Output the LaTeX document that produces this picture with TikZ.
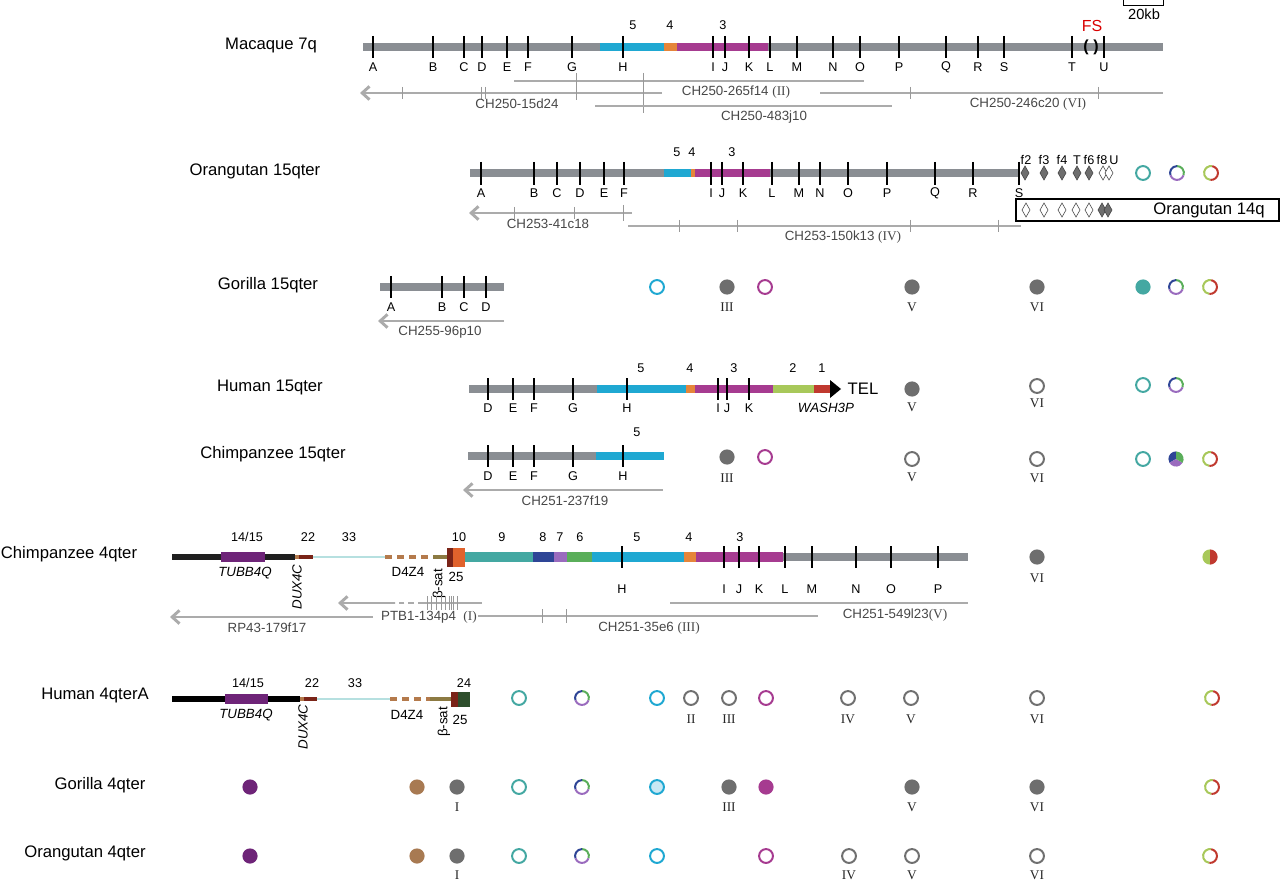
\documentclass[tikz,border=0pt]{standalone}
\usepackage{fontspec}
\setmainfont{Liberation Sans}
\newfontfamily\serif{Liberation Serif}
\usetikzlibrary{arrows.meta}
\definecolor{bargray}{HTML}{8A8E93}
\definecolor{clonegray}{HTML}{ABABAB}
\definecolor{cyanF}{HTML}{1FA8D2}
\definecolor{orangeF}{HTML}{E5853A}
\definecolor{magF}{HTML}{A63B90}
\definecolor{ygF}{HTML}{A8C85A}
\definecolor{redF}{HTML}{C0392F}
\definecolor{tealF}{HTML}{44A8A2}
\definecolor{blueF}{HTML}{2E4596}
\definecolor{lavF}{HTML}{9A6BBE}
\definecolor{greenF}{HTML}{5AAE5A}
\definecolor{orangeT}{HTML}{E0622C}
\definecolor{purpF}{HTML}{6E2478}
\definecolor{tanF}{HTML}{B47A4C}
\definecolor{lcyan}{HTML}{B6E0E0}
\definecolor{oliveF}{HTML}{8C7A42}
\definecolor{dkred}{HTML}{7A2418}
\definecolor{dkgreen}{HTML}{2E4E2C}
\definecolor{circgray}{HTML}{6E6E6E}
\definecolor{ringgray}{HTML}{707070}
\definecolor{brownC}{HTML}{A87A52}
\definecolor{lcfill}{HTML}{C8E8F4}
\newcommand\myring[3]{\draw[line width=1.5pt,#3] (#1,#2) circle[radius=5.2pt];}
\newcommand\mydot[3]{\fill[#3] (#1,#2) circle[radius=5.7pt];}
\newcommand\myarc[5]{\draw[line width=1.5pt,#5] ([shift={(#3:5.2pt)}]#1,#2) arc[start angle=#3,end angle=#4,radius=5.2pt];}
\newcommand\mybgp[2]{\myarc{#1}{#2}{-20}{90}{greenF}\myarc{#1}{#2}{90}{200}{blueF}\myarc{#1}{#2}{200}{340}{lavF}}
\newcommand\myygr[2]{\myarc{#1}{#2}{80}{265}{ygF}\myarc{#1}{#2}{265}{440}{redF}}
\newcommand\mywedge[5]{\fill[#5] (#1,#2) -- ([shift={(#3:5.7pt)}]#1,#2) arc[start angle=#3,end angle=#4,radius=5.7pt] -- cycle;}
\newcommand\mydia[3]{\filldraw[fill=#3,draw=black!75,line width=0.4pt] (#1-4,#2) -- (#1,#2-7) -- (#1+4,#2) -- (#1,#2+7) -- cycle;}
\begin{document}
\begin{tikzpicture}[x=0.75pt,y=-0.75pt,
 bar/.style={line width=6pt,bargray},
 tk/.style={line width=1.3pt,black},
 lab/.style={font=\fontsize{9.5}{11}\selectfont,inner sep=0pt},
 cl/.style={line width=2.2pt,clonegray},
 clarrow/.style={cl,-{Straight Barb[length=5.5pt,width=10pt]}},
 cltick/.style={line width=0.4pt,black!40},
 cltxt/.style={font=\fontsize{10}{12}\selectfont,text=black!72,inner sep=0pt},
 sp/.style={font=\fontsize{12.5}{15}\selectfont,inner sep=0pt},
 rom/.style={font=\serif\fontsize{10}{12}\selectfont,inner sep=0pt,text=black!85},
 itl/.style={font=\itshape\fontsize{10}{12}\selectfont,inner sep=0pt},
 mid/.style={font=\fontsize{10}{12}\selectfont,inner sep=0pt}]
\useasboundingbox (0,0) rectangle (1280,880);
% ---------------- Macaque 7q ----------------
\node[sp] (spMac) at (271,46) {Macaque 7q};
\draw[bar] (363,47) -- (1163,47);
\draw[line width=6pt,cyanF] (600,47) -- (664,47);
\draw[line width=6pt,orangeF] (664,47) -- (677,47);
\draw[line width=6pt,magF] (677,47) -- (768,47);
\foreach \x/\l in {373/A,433/B,464/C,482/D,507/E,528/F,572/G,623/H,713/I,725/J,749/K,770/L,797/M,833/N,860/O,899/P,946/Q,978/R,1004/S,1072/T,1104/U}
 {\draw[tk] (\x,36) -- (\x,58); \node[lab] (mac\l) at (\x,67) {\l};}
\node[lab] (macn5) at (633,25) {5};
\node[lab] (macn4) at (670,25) {4};
\node[lab] (macn3) at (723,25) {3};
\node[font=\fontsize{12}{14}\selectfont,text=red!85!black,inner sep=0pt] (fs) at (1092,26) {FS};
\node[font=\bfseries\fontsize{12}{14}\selectfont,inner sep=0pt] (fsp) at (1091,47) {(\kern3.5pt)};
\draw[line width=0.6pt] (1123,0) -- (1123,5) -- (1163,5) -- (1163,0);
\node[font=\fontsize{11}{13}\selectfont,inner sep=0pt] (kb) at (1144,14) {20kb};
\draw[cl] (514,81) -- (864,81);
\node[cltxt] (c265) at (736,92) {CH250-265f14 \serif(II)};
\draw[clarrow] (662,93) -- (360,93);
\foreach \x in {402,481,485} {\draw[cltick] (\x,87) -- (\x,99);}
\draw[cltick] (576,73) -- (576,100);
\draw[cltick] (643,73) -- (643,113);
\node[cltxt] (c15d) at (517,104) {CH250-15d24};
\draw[cl] (595,106) -- (892,106);
\node[cltxt] (c483) at (764,117) {CH250-483j10};
\draw[cl] (820,93) -- (1163,93);
\foreach \x in {910,1098} {\draw[cltick] (\x,87) -- (\x,99);}
\node[cltxt] (c246) at (1028,104) {CH250-246c20 \serif(VI)};
% ---------------- Orangutan 15qter ----------------
\node[sp] (spO15) at (255,171) {Orangutan 15qter};
\draw[bar] (470,173) -- (1019,173);
\draw[line width=6pt,cyanF] (664,173) -- (691,173);
\draw[line width=6pt,orangeF] (691,173) -- (695,173);
\draw[line width=6pt,magF] (695,173) -- (770,173);
\foreach \x/\l in {481/A,534/B,557/C,580/D,604/E,624/F,711/I,722/J,743/K,772/L,799/M,820/N,848/O,887/P,935/Q,973/R,1019/S}
 {\draw[tk] (\x,162) -- (\x,185); \node[lab] (o15\l) at (\x,193) {\l};}
\node[lab] (o15n5) at (677,152) {5};
\node[lab] (o15n4) at (692,152) {4};
\node[lab] (o15n3) at (732,152) {3};
\foreach \x in {1025,1044,1062,1077,1089} {\mydia{\x}{173}{circgray}}
\foreach \x in {1103,1109} {\mydia{\x}{173}{white}}
\foreach \x/\l/\n in {1026/f2/a,1044/f3/b,1062/f4/c,1077/T/d,1089/f6/e,1102/f8/f,1114/U/g}
 {\node[lab] (df\n) at (\x,160) {\l};}
\draw[line width=1pt] (1016,199) rectangle (1279,221);
\foreach \x in {1026,1044,1062,1076,1089} {\mydia{\x}{210}{white}}
\foreach \x in {1102,1108} {\mydia{\x}{210}{circgray}}
\node[sp] (o14) at (1209,210) {Orangutan 14q};
\myring{1143}{173}{tealF}
\mybgp{1177}{173}
\myygr{1211}{173}
\draw[clarrow] (632,213) -- (469,213);
\foreach \x in {514,574} {\draw[cltick] (\x,207) -- (\x,219);}
\draw[cltick] (623,205) -- (623,221);
\node[cltxt] (c41) at (548,224) {CH253-41c18};
\draw[cl] (628,226) -- (1021,226);
\foreach \x in {679,737,910,998} {\draw[cltick] (\x,220) -- (\x,232);}
\node[cltxt] (c150) at (843,237) {CH253-150k13 \serif(IV)};
% ---------------- Gorilla 15qter ----------------
\node[sp] (spG15) at (268,285) {Gorilla 15qter};
\draw[bar] (380,287) -- (504,287);
\foreach \x/\l in {391/A,442/B,464/C,486/D}
 {\draw[tk] (\x,276) -- (\x,298); \node[lab] (g15\l) at (\x,307) {\l};}
\draw[clarrow] (504,321) -- (378,321);
\node[cltxt] (c96) at (440,332) {CH255-96p10};
\myring{657}{287}{cyanF}
\mydot{727}{287}{circgray} \node[rom] (g15III) at (727,307) {III};
\myring{765}{287}{magF}
\mydot{912}{287}{circgray} \node[rom] (g15V) at (912,307) {V};
\mydot{1037}{287}{circgray} \node[rom] (g15VI) at (1037,307) {VI};
\mydot{1143}{287}{tealF}
\mybgp{1176}{287}
\myygr{1210}{287}
% ---------------- Human 15qter ----------------
\node[sp] (spH15) at (270,387) {Human 15qter};
\draw[bar] (469,389) -- (597,389);
\draw[line width=6pt,cyanF] (597,389) -- (686,389);
\draw[line width=6pt,orangeF] (686,389) -- (695,389);
\draw[line width=6pt,magF] (695,389) -- (773,389);
\draw[line width=6pt,ygF] (773,389) -- (814,389);
\draw[line width=6pt,redF] (814,389) -- (830,389);
\fill[black] (830,380) -- (841,389) -- (830,398) -- cycle;
\foreach \x/\l in {488/D,513/E,534/F,573/G,627/H,718/I,727/J,749/K}
 {\draw[tk] (\x,378) -- (\x,400); \node[lab] (h15\l) at (\x,408) {\l};}
\foreach \x/\l in {641/5,690/4,734/3,793/2,822/1} {\node[lab] (h15n\l) at (\x,368) {\l};}
\node[sp] (tel) at (863,389) {TEL};
\node[itl] (wash) at (826,408) {WASH3P};
\mydot{912}{389}{circgray} \node[rom] (h15V) at (912,407) {V};
\myring{1037}{386}{ringgray} \node[rom] (h15VI) at (1037,403) {VI};
\myring{1143}{385}{tealF}
\mybgp{1176}{385}
% ---------------- Chimpanzee 15qter ----------------
\node[sp] (spC15) at (273,454) {Chimpanzee 15qter};
\draw[bar] (468,456) -- (596,456);
\draw[line width=6pt,cyanF] (596,456) -- (664,456);
\foreach \x/\l in {488/D,513/E,534/F,573/G,623/H}
 {\draw[tk] (\x,445) -- (\x,467); \node[lab] (c15\l) at (\x,476) {\l};}
\node[lab] (c15n5) at (637,432) {5};
\draw[clarrow] (663,490) -- (463,490);
\node[cltxt] (c237) at (565,501) {CH251-237f19};
\mydot{727}{457}{circgray} \node[rom] (c15III) at (727,478) {III};
\myring{765}{457}{magF}
\myring{912}{459}{ringgray} \node[rom] (c15V) at (912,477) {V};
\myring{1037}{459}{ringgray} \node[rom] (c15VI) at (1037,478) {VI};
\myring{1143}{459}{tealF}
\mywedge{1176}{459}{90}{210}{blueF}
\mywedge{1176}{459}{210}{330}{lavF}
\mywedge{1176}{459}{-30}{90}{greenF}
\myygr{1210}{459}
% ---------------- Chimpanzee 4qter ----------------
\node[sp] (spC4) at (69,554) {Chimpanzee 4qter};
\draw[line width=5.2pt,black!88] (172,557) -- (295,557);
\draw[line width=7.5pt,purpF] (221,557) -- (265,557);
\draw[line width=3pt,tanF] (295,557) -- (299,557);
\draw[line width=3pt,dkred] (299,557) -- (313,557);
\draw[line width=2.2pt,lcyan] (313,557) -- (385,557);
\draw[line width=3pt,tanF,dash pattern=on 5pt off 4pt] (385,557) -- (433,557);
\draw[line width=3pt,oliveF] (433,557) -- (447,557);
\fill[dkred] (447,548) rectangle (453,567);
\fill[orangeT] (453,548) rectangle (465,567);
\draw[line width=6.8pt,tealF] (465,557) -- (533,557);
\draw[line width=6.8pt,blueF] (533,557) -- (554,557);
\draw[line width=6.8pt,lavF] (554,557) -- (567,557);
\draw[line width=6.8pt,greenF] (567,557) -- (592,557);
\draw[line width=6.8pt,cyanF] (592,557) -- (684,557);
\draw[line width=6.8pt,orangeF] (684,557) -- (696,557);
\draw[line width=6.8pt,magF] (696,557) -- (783,557);
\draw[bar] (783,557) -- (968,557);
\foreach \x/\l in {622/H,724/I,739/J,759/K,785/L,812/M,856/N,891/O,938/P}
 {\draw[tk] (\x,546) -- (\x,568); \node[lab] (c4\l) at (\x,589) {\l};}
\foreach \x/\l/\n in {247/14\slash15/a,308/22/b,349/33/c,459/10/d,502/9/e,543/8/f,560/7/g,580/6/h,637/5/i,689/4/j,740/3/k}
 {\node[lab] (c4n\n) at (\x,537) {\l};}
\node[itl] (c4tubb) at (245,573) {TUBB4Q};
\node[itl,rotate=90] (c4dux) at (297,587) {DUX4C};
\node[mid] (c4d4z4) at (408,572) {D4Z4};
\node[mid,rotate=90] (c4bsat) at (439,584) {β-sat};
\node[mid] (c4n25) at (456,577) {25};
\draw[cl] (482,603) -- (423,603);
\draw[cl,dash pattern=on 4pt off 3pt] (423,603) -- (395,603);
\draw[clarrow] (395,603) -- (338,603);
\foreach \x in {427,431,436,441,445,449,451,453,457} {\draw[cltick] (\x,596) -- (\x,610);}
\node[cltxt] (cptb) at (429,617) {PTB1-134p4 \ \serif(I)};
\draw[clarrow] (373,617) -- (170,617);
\node[cltxt] (crp) at (267,628) {RP43-179f17};
\draw[cl] (478,616) -- (818,616);
\foreach \x in {542,566} {\draw[cltick] (\x,609) -- (\x,623);}
\node[cltxt] (c35) at (649,628) {CH251-35e6 \serif(III)};
\draw[cl] (670,603) -- (968,603);
\node[cltxt] (c549) at (895,615) {CH251-549l23\serif(V)};
\mydot{1037}{557}{circgray} \node[rom] (c4VI) at (1037,578) {VI};
\mywedge{1210}{557}{90}{270}{ygF}
\mywedge{1210}{557}{-90}{90}{redF}
% ---------------- Human 4qterA ----------------
\node[sp] (spH4) at (95,695) {Human 4qterA};
\draw[line width=5.2pt,black] (172,699) -- (300,699);
\draw[line width=7.5pt,purpF] (225,699) -- (268,699);
\draw[line width=3pt,tanF] (300,699) -- (304,699);
\draw[line width=3pt,dkred] (304,699) -- (317,699);
\draw[line width=2.2pt,lcyan] (317,699) -- (390,699);
\draw[line width=3pt,tanF,dash pattern=on 5pt off 4pt] (390,699) -- (430,699);
\draw[line width=3pt,oliveF] (430,699) -- (451,699);
\fill[dkred] (451,692) rectangle (458,707);
\fill[dkgreen] (458,692) rectangle (470,707);
\node[lab] (h4a) at (248,683) {14/15};
\node[lab] (h4b) at (312,683) {22};
\node[lab] (h4c) at (355,683) {33};
\node[lab] (h4d) at (464,683) {24};
\node[itl] (h4tubb) at (246,715) {TUBB4Q};
\node[itl,rotate=90] (h4dux) at (303,727) {DUX4C};
\node[mid] (h4d4z4) at (407,715) {D4Z4};
\node[mid,rotate=90] (h4bsat) at (444,722) {β-sat};
\node[mid] (h4n25) at (460,720) {25};
\myring{519}{698}{tealF}
\mybgp{582}{698}
\myring{657}{698}{cyanF}
\myring{691}{698}{ringgray} \node[rom] (h4II) at (691,719) {II};
\myring{729}{698}{ringgray} \node[rom] (h4III) at (729,719) {III};
\myring{766}{698}{magF}
\myring{848}{698}{ringgray} \node[rom] (h4IV) at (848,719) {IV};
\myring{911}{698}{ringgray} \node[rom] (h4V) at (911,719) {V};
\myring{1037}{698}{ringgray} \node[rom] (h4VI) at (1037,719) {VI};
\myygr{1212}{698}
% ---------------- Gorilla 4qter ----------------
\node[sp] (spG4) at (100,785) {Gorilla 4qter};
\mydot{250}{787}{purpF}
\mydot{417}{787}{brownC}
\mydot{457}{787}{circgray} \node[rom] (g4I) at (457,807) {I};
\myring{519}{787}{tealF}
\mybgp{582}{787}
\filldraw[line width=1.5pt,fill=lcfill,draw=cyanF] (657,787) circle[radius=5.2pt];
\mydot{729}{787}{circgray} \node[rom] (g4III) at (729,807) {III};
\mydot{766}{787}{magF}
\mydot{912}{787}{circgray} \node[rom] (g4V) at (912,807) {V};
\mydot{1037}{787}{circgray} \node[rom] (g4VI) at (1037,807) {VI};
\myygr{1212}{787}
% ---------------- Orangutan 4qter ----------------
\node[sp] (spO4) at (85,853) {Orangutan 4qter};
\mydot{250}{856}{purpF}
\mydot{417}{856}{brownC}
\mydot{457}{856}{circgray} \node[rom] (o4I) at (457,875) {I};
\myring{519}{856}{tealF}
\mybgp{582}{856}
\myring{657}{856}{cyanF}
\myring{766}{856}{magF}
\myring{849}{856}{ringgray} \node[rom] (o4IV) at (849,875) {IV};
\myring{912}{856}{ringgray} \node[rom] (o4V) at (912,875) {V};
\myring{1037}{856}{ringgray} \node[rom] (o4VI) at (1037,875) {VI};
\myygr{1210}{856}
\end{tikzpicture}
\end{document}
